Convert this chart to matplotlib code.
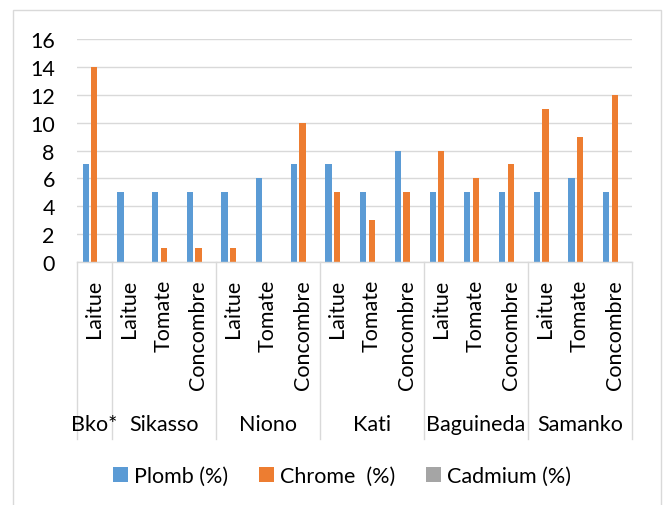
import matplotlib.pyplot as plt
import matplotlib.transforms as mtransforms
from matplotlib.patches import Rectangle
from matplotlib.lines import Line2D

plt.rcParams["font.family"] = ["Lato", "DejaVu Sans"]

sites = ["Bko*", "Sikasso", "Niono", "Kati", "Baguineda", "Samanko"]
site_sizes = [1, 3, 3, 3, 3, 3]
vegetables = ["Laitue",
              "Laitue", "Tomate", "Concombre",
              "Laitue", "Tomate", "Concombre",
              "Laitue", "Tomate", "Concombre",
              "Laitue", "Tomate", "Concombre",
              "Laitue", "Tomate", "Concombre"]
plomb = [7, 5, 5, 5, 5, 6, 7, 7, 5, 8, 5, 5, 5, 5, 6, 5]
chrome = [14, 0, 1, 1, 1, 0, 10, 5, 3, 5, 8, 6, 7, 11, 9, 12]
cadmium = [0] * 16

series = [("Plomb (%)", plomb, "#5B9BD5"),
          ("Chrome  (%)", chrome, "#ED7D31"),
          ("Cadmium (%)", cadmium, "#A5A5A5")]

grey = "#D9D9D9"
fs = 15.5

fig = plt.figure(figsize=(6.64, 5.06), dpi=100)
ax = fig.add_axes([0.116, 0.480, 0.836, 0.441])

x = list(range(len(vegetables)))
width = 0.18
for k, (name, vals, color) in enumerate(series):
    ax.bar([i + (k - 1) * 0.25 for i in x], vals, width, color=color, label=name)

ax.set_xlim(-0.5, len(vegetables) - 0.5)
ax.set_ylim(0, 16)
ax.set_yticks(range(0, 17, 2))
ax.yaxis.grid(True, color=grey, linewidth=1.0)
ax.set_axisbelow(True)
for side in ["top", "left", "right"]:
    ax.spines[side].set_visible(False)
ax.spines["bottom"].set_color(grey)
ax.spines["bottom"].set_linewidth(1.0)

ax.set_xticks(x)
ax.set_xticklabels(vegetables, rotation=90)
ax.tick_params(axis="x", length=0, pad=12, labelsize=fs)
ax.tick_params(axis="y", length=0, pad=16, labelsize=fs)

# second level of the category axis
trans = mtransforms.blended_transform_factory(ax.transData, fig.transFigure)
start = 0
bounds = [-0.5]
for site, n in zip(sites, site_sizes):
    center = start + (n - 1) / 2
    ax.text(center, 0.160, site, transform=trans, ha="center", va="center",
            fontsize=fs, clip_on=False)
    start += n
    bounds.append(start - 0.5)
for b in bounds:
    ax.add_line(Line2D([b, b], [0.480, 0.130], transform=trans, color=grey,
                       linewidth=1.0, clip_on=False))

fig.legend(loc="center", bbox_to_anchor=(0.515, 0.057), ncol=3, frameon=False,
           fontsize=fs, handlelength=0.7, handleheight=0.7, handletextpad=0.3,
           columnspacing=1.4)

fig.add_artist(Rectangle((13 / 664, -0.02), 648 / 664, 0.02 + 495 / 506,
                         transform=fig.transFigure, fill=False,
                         edgecolor=grey, linewidth=1.0))

fig.savefig("out.png", dpi=100)
